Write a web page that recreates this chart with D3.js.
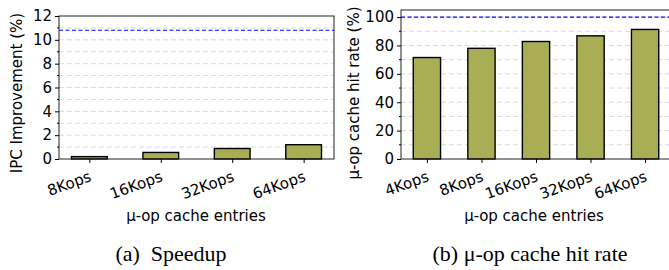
<!DOCTYPE html>
<html>
<head>
<meta charset="utf-8">
<script src="https://cdn.jsdelivr.net/npm/d3@7"></script>
<style>
  body { margin: 0; background: #fff; }
  svg { display: block; }
  text { font-family: "DejaVu Sans", sans-serif; fill: #000; }
  .caption { font-family: "Liberation Serif", "Times New Roman", serif; }
</style>
</head>
<body>
<svg id="fig" width="669" height="270"></svg>
<script>
// speedup panel
var speedCats = ["8Kops", "16Kops", "32Kops", "64Kops"];
var speedVals = [0.2, 0.55, 0.88, 1.2];
var speedTicks = [0, 2, 4, 6, 8, 10, 12];
var speedRef = 10.8;

// hit rate panel
var hitCats = ["4Kops", "8Kops", "16Kops", "32Kops", "64Kops"];
var hitVals = [71.5, 78, 82.8, 86.8, 91.3];
var hitTicks = [0, 20, 40, 60, 80, 100];
var hitRef = 100;

var BAR = "#a9ad54";
var FS = "15px";
var svg = d3.select("#fig");

function panel(opts) {
	var g = svg.append("g");
	var n = opts.cats.length;
	// matplotlib style x limits: bars of width .5 plus 5% margins
	var lo = -0.25, hi = n - 0.75, m = (hi - lo) * 0.05;
	var x = d3.scaleLinear().domain([lo - m, hi + m]).range([opts.left, opts.right]);
	var y = d3.scaleLinear().domain([0, opts.ymax]).range([opts.bottom, opts.top]);

	// grid, every major and minor step
	g.selectAll("line.grid")
		.data(d3.range(opts.minor, opts.ymax, opts.minor))
		.enter().append("line")
			.attr("class", "grid")
			.attr("x1", opts.left).attr("x2", opts.right)
			.attr("y1", function(d) { return y(d); })
			.attr("y2", function(d) { return y(d); })
			.attr("stroke", "#d9d9d9")
			.attr("stroke-width", 1)
			.attr("stroke-dasharray", "5,3");

	// reference line
	g.append("line")
		.attr("x1", opts.left).attr("x2", opts.right)
		.attr("y1", y(opts.ref)).attr("y2", y(opts.ref))
		.attr("stroke", "#0000ff")
		.attr("stroke-width", 1.1)
		.attr("stroke-dasharray", "4,2.5");

	var bw = x(0.5) - x(0);
	g.selectAll("rect.bar")
		.data(opts.vals)
		.enter().append("rect")
			.attr("class", "bar")
			.attr("x", function(d, i) { return x(i) - bw / 2; })
			.attr("y", function(d) { return y(d); })
			.attr("width", bw)
			.attr("height", function(d) { return y(0) - y(d); })
			.attr("fill", BAR)
			.attr("stroke", "#000")
			.attr("stroke-width", 1.4);

	// frame
	g.append("rect")
		.attr("x", opts.left).attr("y", opts.top)
		.attr("width", opts.right - opts.left)
		.attr("height", opts.bottom - opts.top)
		.attr("fill", "none")
		.attr("stroke", "#222")
		.attr("stroke-width", 1);

	// y axis
	var yAxis = d3.axisLeft(y).tickValues(opts.yticks).tickSize(4).tickPadding(3)
		.tickFormat(d3.format("d"));
	var ya = g.append("g").attr("transform", "translate(" + opts.left + ",0)").call(yAxis);
	ya.select(".domain").remove();
	ya.selectAll("text").style("font-size", FS).style("font-family", "DejaVu Sans");
	// minor ticks
	var minors = d3.range(opts.minor, opts.ymax, opts.minor * 2).filter(function(d) {
		return opts.yticks.indexOf(d) < 0;
	});
	g.selectAll("line.minor")
		.data(minors)
		.enter().append("line")
			.attr("x1", opts.left - 2).attr("x2", opts.left)
			.attr("y1", function(d) { return y(d); })
			.attr("y2", function(d) { return y(d); })
			.attr("stroke", "#000");

	// x axis
	var xAxis = d3.axisBottom(x).tickValues(d3.range(n)).tickSize(4).tickFormat("");
	var xa = g.append("g").attr("transform", "translate(0," + opts.bottom + ")").call(xAxis);
	xa.select(".domain").remove();
	g.selectAll("text.xt")
		.data(opts.cats)
		.enter().append("text")
			.attr("class", "xt")
			.attr("transform", function(d, i) {
				return "translate(" + (x(i) - 1) + "," + (opts.bottom + 11) + ") rotate(-20)";
			})
			.attr("text-anchor", "end")
			.attr("dy", "0.75em")
			.style("font-size", FS)
			.text(function(d) { return d; });

	// axis labels
	g.append("text")
		.attr("transform", "translate(" + opts.ylabX + ",93) rotate(-90)")
		.attr("text-anchor", "middle")
		.attr("dominant-baseline", "central")
		.style("font-size", FS)
		.text(opts.ylabel);
	g.append("text")
		.attr("x", opts.xlabX)
		.attr("y", 216)
		.attr("text-anchor", "middle")
		.attr("dominant-baseline", "central")
		.style("font-size", FS)
		.text("\u03bc-op cache entries");
	g.append("text")
		.attr("class", "caption")
		.attr("x", opts.capX)
		.attr("y", 253)
		.attr("text-anchor", "middle")
		.attr("dominant-baseline", "central")
		.style("font-size", "22px")
		.text(opts.caption);
}

panel({
	cats: speedCats, vals: speedVals, yticks: speedTicks, ref: speedRef,
	ymax: 12, minor: 1,
	left: 59, right: 334, top: 16, bottom: 159,
	ylabX: 17, ylabel: "IPC Improvement (%)",
	xlabX: 196, capX: 171, caption: "(a)\u00a0 Speedup"
});

panel({
	cats: hitCats, vals: hitVals, yticks: hitTicks, ref: hitRef,
	ymax: 105, minor: 10,
	left: 401, right: 671, top: 10, bottom: 159,
	ylabX: 354, ylabel: "\u03bc-op cache hit rate (%)",
	xlabX: 534, capX: 530, caption: "(b) \u03bc-op cache hit rate"
});
</script>
</body>
</html>
